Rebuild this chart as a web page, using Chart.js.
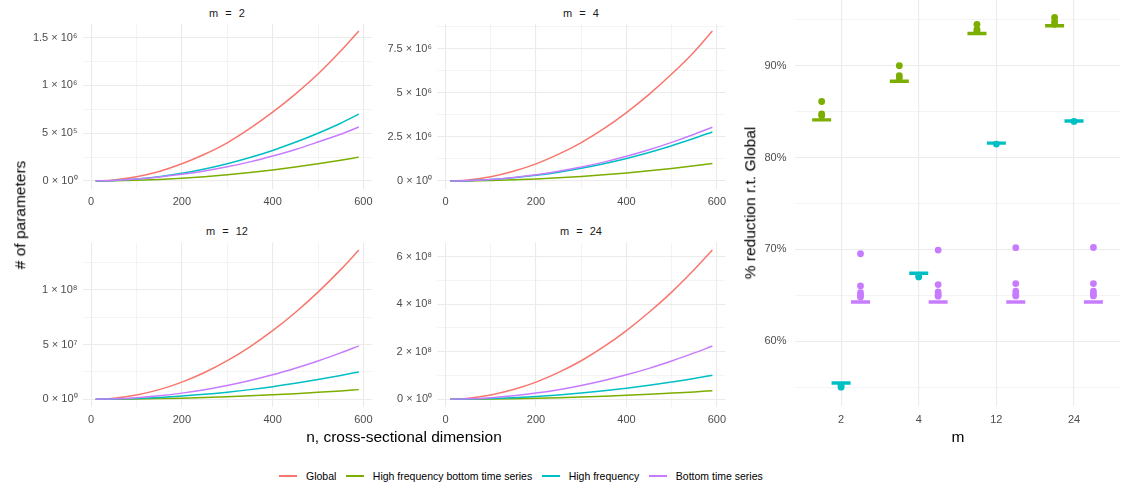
<!DOCTYPE html>
<html>
<head>
<meta charset="utf-8">
<script src="https://cdn.jsdelivr.net/npm/chart.js@4.4.0/dist/chart.umd.min.js"></script>
<style>
  body { margin: 0; background: #fff; font-family: "Liberation Sans", Arial, sans-serif; }
  #wrap { position: relative; width: 1123px; height: 493px; overflow: hidden; }
  canvas { position: absolute; }
  .txt { position: absolute; white-space: nowrap; line-height: 1; transform: translate(-50%, -50%); }
  .strip { font-size: 11px; color: #1a1a1a; word-spacing: 4px; }
  .title { font-size: 15.5px; color: #000; }
  .rot { transform: translate(-50%, -50%) rotate(-90deg); }
  #legend { position: absolute; left: 279px; top: 470px; display: flex; align-items: center; font-size: 10.5px; color: #000; }
  #legend .key { display: inline-block; width: 18px; height: 1.6px; margin-right: 9px; }
  #legend .lab { margin-right: 9.5px; }
</style>
</head>
<body>
<div id="wrap">
  <canvas id="p1" width="380" height="192"></canvas>
  <canvas id="p2" width="355" height="192"></canvas>
  <canvas id="p3" width="380" height="192"></canvas>
  <canvas id="p4" width="355" height="192"></canvas>
  <canvas id="p5" width="388" height="430"></canvas>

  <div class="txt strip" style="left:227px; top:13px;">m = 2</div>
  <div class="txt strip" style="left:581px; top:13px;">m = 4</div>
  <div class="txt strip" style="left:227px; top:231px;">m = 12</div>
  <div class="txt strip" style="left:581px; top:231px;">m = 24</div>

  <div class="txt title rot" style="left:20px; top:215px;"># of parameters</div>
  <div class="txt title" style="left:404px; top:437px;">n, cross-sectional dimension</div>
  <div class="txt title rot" style="left:750px; top:203px;">% reduction r.t. Global</div>
  <div class="txt title" style="left:958px; top:437px;">m</div>

  <div id="legend">
    <span class="key" style="background:#F8766D"></span><span class="lab">Global</span>
    <span class="key" style="background:#7CAE00"></span><span class="lab">High frequency bottom time series</span>
    <span class="key" style="background:#00BFC4"></span><span class="lab">High frequency</span>
    <span class="key" style="background:#C77CFF"></span><span class="lab">Bottom time series</span>
  </div>
</div>

<script>
// n, cross-sectional dimension
const nValues = [10, 50, 100, 150, 200, 250, 300, 350, 400, 450, 500, 550, 590];

// m = 2
const m2Global   = [0.0005e6, 0.011e6, 0.045e6, 0.10e6, 0.18e6, 0.28e6, 0.40e6, 0.55e6, 0.72e6, 0.91e6, 1.12e6, 1.36e6, 1.57e6];
const m2HFBottom = [0.0001e6, 0.002e6, 0.0072e6, 0.016e6, 0.029e6, 0.045e6, 0.065e6, 0.088e6, 0.115e6, 0.146e6, 0.18e6, 0.218e6, 0.25e6];
const m2HF       = [0.0002e6, 0.005e6, 0.02e6, 0.045e6, 0.08e6, 0.125e6, 0.18e6, 0.245e6, 0.32e6, 0.405e6, 0.5e6, 0.605e6, 0.70e6];
const m2Bottom   = [0.0005e6, 0.006e6, 0.02e6, 0.042e6, 0.07e6, 0.105e6, 0.148e6, 0.2e6, 0.262e6, 0.33e6, 0.408e6, 0.49e6, 0.565e6];

// m = 4
const m4Global   = [0.002e6, 0.06e6, 0.24e6, 0.55e6, 0.97e6, 1.52e6, 2.18e6, 2.97e6, 3.88e6, 4.91e6, 6.06e6, 7.33e6, 8.5e6];
const m4HFBottom = [0.0003e6, 0.007e6, 0.028e6, 0.064e6, 0.114e6, 0.178e6, 0.256e6, 0.35e6, 0.455e6, 0.575e6, 0.71e6, 0.86e6, 0.99e6];
const m4HF       = [0.001e6, 0.02e6, 0.08e6, 0.18e6, 0.32e6, 0.5e6, 0.72e6, 0.98e6, 1.28e6, 1.62e6, 2.0e6, 2.42e6, 2.78e6];
const m4Bottom   = [0.001e6, 0.022e6, 0.088e6, 0.2e6, 0.35e6, 0.55e6, 0.79e6, 1.07e6, 1.4e6, 1.77e6, 2.19e6, 2.65e6, 3.05e6];

// m = 12
const m12Global   = [0.004e7, 0.1e7, 0.39e7, 0.88e7, 1.57e7, 2.45e7, 3.53e7, 4.8e7, 6.27e7, 7.94e7, 9.8e7, 11.86e7, 13.65e7];
const m12HFBottom = [0.0003e7, 0.0063e7, 0.025e7, 0.057e7, 0.1e7, 0.158e7, 0.228e7, 0.31e7, 0.405e7, 0.51e7, 0.63e7, 0.76e7, 0.88e7];
const m12HF       = [0.0007e7, 0.018e7, 0.072e7, 0.16e7, 0.29e7, 0.45e7, 0.65e7, 0.88e7, 1.15e7, 1.46e7, 1.8e7, 2.18e7, 2.5e7];
const m12Bottom   = [0.0014e7, 0.035e7, 0.14e7, 0.315e7, 0.56e7, 0.875e7, 1.26e7, 1.72e7, 2.24e7, 2.84e7, 3.5e7, 4.24e7, 4.88e7];

// m = 24
const m24Global   = [0.0018e8, 0.045e8, 0.18e8, 0.406e8, 0.72e8, 1.13e8, 1.62e8, 2.21e8, 2.89e8, 3.66e8, 4.51e8, 5.46e8, 6.28e8];
const m24HFBottom = [0.0001e8, 0.0026e8, 0.0104e8, 0.023e8, 0.041e8, 0.065e8, 0.093e8, 0.127e8, 0.166e8, 0.21e8, 0.26e8, 0.31e8, 0.36e8];
const m24HF       = [0.0003e8, 0.0073e8, 0.029e8, 0.065e8, 0.116e8, 0.18e8, 0.26e8, 0.355e8, 0.465e8, 0.59e8, 0.725e8, 0.875e8, 1.01e8];
const m24Bottom   = [0.0006e8, 0.016e8, 0.064e8, 0.145e8, 0.258e8, 0.4e8, 0.58e8, 0.79e8, 1.03e8, 1.3e8, 1.61e8, 1.95e8, 2.24e8];

// tick values / labels
const xTickVals = [0, 200, 400, 600];
const xTickLabels = ['0', '200', '400', '600'];
const m2YTicks = [0, 5e5, 1e6, 1.5e6];
const m2YLabels = ['0 \u00d7 10\u2070', '5 \u00d7 10\u2075', '1 \u00d7 10\u2076', '1.5 \u00d7 10\u2076'];
const m4YTicks = [0, 2.5e6, 5e6, 7.5e6];
const m4YLabels = ['0 \u00d7 10\u2070', '2.5 \u00d7 10\u2076', '5 \u00d7 10\u2076', '7.5 \u00d7 10\u2076'];
const m12YTicks = [0, 5e7, 1e8];
const m12YLabels = ['0 \u00d7 10\u2070', '5 \u00d7 10\u2077', '1 \u00d7 10\u2078'];
const m24YTicks = [0, 2e8, 4e8, 6e8];
const m24YLabels = ['0 \u00d7 10\u2070', '2 \u00d7 10\u2078', '4 \u00d7 10\u2078', '6 \u00d7 10\u2078'];

// right panel: % reduction w.r.t. Global
const mLabels = ['2', '4', '12', '24'];
const hfBottomBox = [84.1, 88.3, 93.5, 94.35];
const hfBottomOut = [[86.1, 84.75, 84.55], [90.0, 88.9, 88.65], [94.5, 93.95, 93.75], [95.25, 94.8, 94.5]];
const hfBox = [55.45, 67.4, 81.57, 83.98];
const hfOut = [[55.0, 55.2], [67.0, 67.2], [81.46], [83.93]];
const bottomBox = [64.27, 64.27, 64.27, 64.27];
const bottomOut = [[69.52, 66.02, 65.3, 65.0, 64.8], [69.92, 66.17, 65.37, 65.08, 64.9],
                   [70.18, 66.28, 65.44, 65.1, 64.93], [70.2, 66.28, 65.45, 65.1, 64.93]];
const pctTicks = [60, 70, 80, 90];
const pctLabels = ['60%', '70%', '80%', '90%'];

const colGlobal = '#F8766D', colHFB = '#7CAE00', colHF = '#00BFC4', colBottom = '#C77CFF';
const fontFam = '"Liberation Sans", Arial, sans-serif';
const gridCol = '#ebebeb';

function xy(vals) {
  return vals.map((v, i) => ({ x: nValues[i], y: v }));
}

function halfSteps(major, top) {
  const step = major[1] - major[0];
  const out = [];
  for (let i = 0; i < major.length; i++) {
    out.push(major[i]);
    if (major[i] + step / 2 <= top) out.push(major[i] + step / 2);
  }
  return out;
}

function place(canvas, box) {
  canvas.style.left = box.x + 'px';
  canvas.style.top = box.y + 'px';
}

function linePanel(id, box, area, series, yTicks, yLabels) {
  const canvas = document.getElementById(id);
  place(canvas, box);
  const top = series[0][series[0].length - 1];
  const yMin = -0.05 * top, yMax = 1.05 * top;
  const yAll = halfSteps(yTicks, yMax);
  const xAll = [0, 100, 200, 300, 400, 500, 600];
  const cols = [colBottom, colHF, colHFB, colGlobal];
  const order = [3, 2, 1, 0];
  new Chart(canvas.getContext('2d'), {
    type: 'line',
    data: {
      datasets: order.map((k, j) => ({
        data: xy(series[k]),
        borderColor: cols[j],
        borderWidth: 1.5,
        pointRadius: 0,
        fill: false,
        cubicInterpolationMode: 'monotone'
      }))
    },
    options: {
      responsive: false,
      animation: false,
      events: [],
      layout: { autoPadding: false, padding: { left: 0, top: area.t - box.y, right: box.x + box.w - area.r, bottom: 0 } },
      plugins: { legend: { display: false }, tooltip: { enabled: false } },
      scales: {
        x: {
          type: 'linear', min: -19, max: 619,
          afterBuildTicks: s => { s.ticks = xAll.map(v => ({ value: v })); },
          afterFit: s => { s.height = box.y + box.h - area.b; s.paddingLeft = 0; s.paddingRight = 0; },
          ticks: {
            callback: v => { const i = xTickVals.indexOf(v); return i >= 0 ? xTickLabels[i] : ''; },
            color: '#4d4d4d', font: { size: 11, family: fontFam }, padding: 7, maxRotation: 0, autoSkip: false
          },
          grid: { color: gridCol, drawTicks: false, lineWidth: c => xTickVals.includes(c.tick.value) ? 1.1 : 0.55 },
          border: { display: false }
        },
        y: {
          type: 'linear', min: yMin, max: yMax,
          afterBuildTicks: s => { s.ticks = yAll.map(v => ({ value: v })); },
          afterFit: s => { s.width = area.l - box.x; s.paddingTop = 0; s.paddingBottom = 0; },
          ticks: {
            callback: v => { const i = yTicks.indexOf(v); return i >= 0 ? yLabels[i] : ''; },
            color: '#4d4d4d', font: { size: 11, family: fontFam }, padding: 5, autoSkip: false
          },
          grid: { color: gridCol, drawTicks: false, lineWidth: c => yTicks.includes(c.tick.value) ? 1.1 : 0.55 },
          border: { display: false }
        }
      }
    }
  });
}

linePanel('p1', { x: 0, y: 20, w: 380, h: 192 }, { l: 82.5, t: 23.5, r: 372, b: 188.5 },
  [m2Global, m2HFBottom, m2HF, m2Bottom], m2YTicks, m2YLabels);
linePanel('p2', { x: 380, y: 20, w: 355, h: 192 }, { l: 437, t: 23.5, r: 725.5, b: 188.5 },
  [m4Global, m4HFBottom, m4HF, m4Bottom], m4YTicks, m4YLabels);
linePanel('p3', { x: 0, y: 238, w: 380, h: 192 }, { l: 82.5, t: 242.6, r: 372, b: 406.7 },
  [m12Global, m12HFBottom, m12HF, m12Bottom], m12YTicks, m12YLabels);
linePanel('p4', { x: 380, y: 238, w: 355, h: 192 }, { l: 437, t: 242.6, r: 725.5, b: 406.7 },
  [m24Global, m24HFBottom, m24HF, m24Bottom], m24YTicks, m24YLabels);

// right panel
function boxPts(vals, off) {
  return vals.map((v, i) => ({ x: i + 1 + off, y: v }));
}
function outPts(groups, off) {
  const pts = [];
  groups.forEach((g, i) => g.forEach(v => pts.push({ x: i + 1 + off, y: v })));
  return pts;
}
function boxSet(data, col) {
  return { data: data, pointStyle: 'line', pointRadius: 9.5, pointBorderWidth: 3.4, borderColor: col, backgroundColor: col, showLine: false };
}
function outSet(data, col) {
  return { data: data, pointStyle: 'circle', pointRadius: 3.4, pointBorderWidth: 0, borderColor: col, backgroundColor: col, showLine: false };
}

(function () {
  const box = { x: 735, y: 0, w: 388, h: 430 };
  const area = { l: 794.5, t: 0, r: 1120.6, b: 405.5 };
  const canvas = document.getElementById('p5');
  place(canvas, box);
  const yAll = [55, 60, 65, 70, 75, 80, 85, 90, 95];
  new Chart(canvas.getContext('2d'), {
    type: 'scatter',
    data: {
      datasets: [
        outSet(outPts(bottomOut, 0.25), colBottom),
        boxSet(boxPts(bottomBox, 0.25), colBottom),
        outSet(outPts(hfOut, 0), colHF),
        boxSet(boxPts(hfBox, 0), colHF),
        outSet(outPts(hfBottomOut, -0.25), colHFB),
        boxSet(boxPts(hfBottomBox, -0.25), colHFB)
      ]
    },
    options: {
      responsive: false,
      animation: false,
      events: [],
      layout: { autoPadding: false, padding: { left: 0, top: area.t - box.y, right: box.x + box.w - area.r, bottom: 0 } },
      plugins: { legend: { display: false }, tooltip: { enabled: false } },
      scales: {
        x: {
          type: 'linear', min: 0.4, max: 4.6,
          afterBuildTicks: s => { s.ticks = [1, 2, 3, 4].map(v => ({ value: v })); },
          afterFit: s => { s.height = box.y + box.h - area.b; s.paddingLeft = 0; s.paddingRight = 0; },
          ticks: {
            callback: v => mLabels[v - 1],
            color: '#4d4d4d', font: { size: 11, family: fontFam }, padding: 8, maxRotation: 0, autoSkip: false
          },
          grid: { color: gridCol, drawTicks: false, lineWidth: 1.1 },
          border: { display: false }
        },
        y: {
          type: 'linear', min: 53.0, max: 97.15,
          afterBuildTicks: s => { s.ticks = yAll.map(v => ({ value: v })); },
          afterFit: s => { s.width = area.l - box.x; s.paddingTop = 0; s.paddingBottom = 0; },
          ticks: {
            callback: v => { const i = pctTicks.indexOf(v); return i >= 0 ? pctLabels[i] : ''; },
            color: '#4d4d4d', font: { size: 11, family: fontFam }, padding: 8, autoSkip: false
          },
          grid: { color: gridCol, drawTicks: false, lineWidth: c => pctTicks.includes(c.tick.value) ? 1.1 : 0.55 },
          border: { display: false }
        }
      }
    }
  });
})();
</script>
</body>
</html>
